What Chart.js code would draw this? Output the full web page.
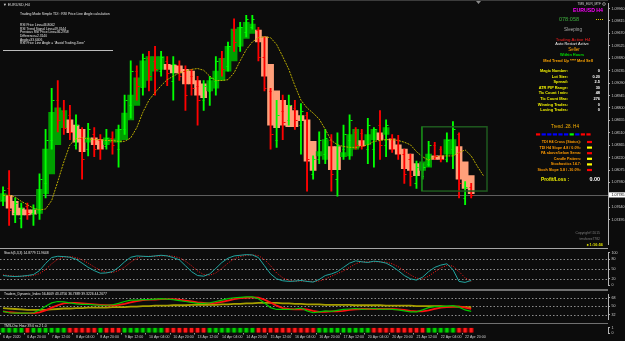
<!DOCTYPE html>
<html>
<head>
<meta charset="utf-8">
<script src="https://cdn.jsdelivr.net/npm/chart.js@4.4.1/dist/chart.umd.min.js"></script>
<style>
  html, body { margin: 0; padding: 0; background: #0c0c0c; overflow: hidden; }
  #wrap { position: relative; width: 625px; height: 341px; }
  #wrap canvas { position: absolute; left: 0; }
  .sep { position: absolute; left: 0; width: 608px; }
</style>
</head>
<body>
<div id="wrap">
  <canvas id="main" width="625" height="248" style="top:0px"></canvas>
  <canvas id="stoch" width="625" height="40" style="top:249px"></canvas>
  <canvas id="tdi" width="625" height="32" style="top:291px"></canvas>
  <canvas id="tms" width="625" height="17" style="top:324px"></canvas>
  <div class="sep" style="top:248px;height:1px;background:#a6a6a6"></div>
  <div class="sep" style="top:289px;height:2px;background:#707070"></div>
  <div class="sep" style="top:323px;height:1px;background:#707070"></div>
</div>
<script>
/* EURUSD H4, 6 Apr 04:00 .. 23 Apr 00:00 */
const timeTicks = ['6 Apr 2020', '6 Apr 20:00', '7 Apr 12:00', '8 Apr 04:00', '8 Apr 20:00', '9 Apr 12:00',
    '10 Apr 04:00', '10 Apr 20:00', '13 Apr 12:00', '14 Apr 04:00', '14 Apr 20:00', '15 Apr 12:00',
    '16 Apr 04:00', '16 Apr 20:00', '17 Apr 12:00', '20 Apr 04:00', '20 Apr 20:00', '21 Apr 12:00',
    '22 Apr 04:00', '22 Apr 20:00'];

const priceTicks = [1.09960, 1.09815, 1.09670, 1.09525, 1.09380, 1.09235, 1.09090, 1.08945, 1.08800,
    1.08655, 1.08510, 1.08365, 1.08220, 1.08075, 1.07930, 1.07640, 1.07495];
const lastPrice = 1.07785;

// Heiken Ashi bodies
const haOpen = [1.0771, 1.0778, 1.0771, 1.0763, 1.0761, 1.0761, 1.0757, 1.0780, 1.0803, 1.0837,
    1.0857, 1.0866, 1.0860, 1.0855, 1.0840, 1.0845, 1.0843, 1.0837, 1.0840, 1.0840,
    1.0843, 1.0866, 1.0883, 1.0904, 1.0912, 1.0923, 1.0925, 1.0931, 1.0930, 1.0929,
    1.0925, 1.0923, 1.0912, 1.0908, 1.0900, 1.0903, 1.0912, 1.0923, 1.0935, 1.0952,
    1.0961, 1.0967, 1.0971, 1.0963, 1.0931, 1.0900, 1.0889, 1.0883, 1.0877, 1.0871,
    1.0866, 1.0841, 1.0824, 1.0820, 1.0835, 1.0835, 1.0823, 1.0824, 1.0832, 1.0842,
    1.0837, 1.0843, 1.0851, 1.0849, 1.0844, 1.0837, 1.0832, 1.0826, 1.0815, 1.0807,
    1.0811, 1.0824, 1.0824, 1.0826, 1.0826, 1.0835, 1.0817, 1.0801];
const haClose = [1.0780, 1.0763, 1.0755, 1.0755, 1.0755, 1.0756, 1.0785, 1.0832, 1.0875, 1.0880,
    1.0877, 1.0851, 1.0840, 1.0829, 1.0845, 1.0837, 1.0832, 1.0845, 1.0844, 1.0855,
    1.0874, 1.0895, 1.0915, 1.0935, 1.0940, 1.0940, 1.0940, 1.0925, 1.0921, 1.0921,
    1.0908, 1.0908, 1.0895, 1.0892, 1.0912, 1.0923, 1.0938, 1.0952, 1.0972, 1.0974,
    1.0980, 1.0978, 1.0957, 1.0917, 1.0860, 1.0857, 1.0860, 1.0858, 1.0858, 1.0865,
    1.0818, 1.0807, 1.0829, 1.0843, 1.0808, 1.0808, 1.0828, 1.0849, 1.0855, 1.0836,
    1.0849, 1.0855, 1.0843, 1.0857, 1.0832, 1.0826, 1.0809, 1.0807, 1.0801, 1.0817,
    1.0826, 1.0820, 1.0820, 1.0843, 1.0843, 1.0797, 1.0786, 1.0780];

// plain OHLC bars
const openP = [1.0772, 1.0786, 1.0757, 1.0752, 1.0766, 1.0757, 1.0761, 1.0792, 1.0843, 1.0889,
    1.0877, 1.0872, 1.0837, 1.0845, 1.0832, 1.0849, 1.0843, 1.0835, 1.0845, 1.0832,
    1.0855, 1.0883, 1.0923, 1.0904, 1.0938, 1.0935, 1.0923, 1.0935, 1.0912, 1.0930,
    1.0923, 1.0917, 1.0906, 1.0889, 1.0900, 1.0912, 1.0938, 1.0929, 1.0971, 1.0952,
    1.0969, 1.0974, 1.0971, 1.0940, 1.0900, 1.0843, 1.0877, 1.0866, 1.0880, 1.0860,
    1.0872, 1.0803, 1.0820, 1.0826, 1.0843, 1.0797, 1.0832, 1.0843, 1.0852, 1.0851,
    1.0832, 1.0832, 1.0860, 1.0837, 1.0845, 1.0843, 1.0826, 1.0820, 1.0792, 1.0801,
    1.0815, 1.0837, 1.0832, 1.0820, 1.0832, 1.0849, 1.0775, 1.0788];
const highP = [1.0788, 1.0807, 1.0775, 1.0769, 1.0769, 1.0767, 1.0803, 1.0855, 1.0903, 1.0912,
    1.0889, 1.0883, 1.0872, 1.0857, 1.0862, 1.0857, 1.0849, 1.0855, 1.0852, 1.0860,
    1.0895, 1.0935, 1.0929, 1.0943, 1.0946, 1.0952, 1.0946, 1.0940, 1.0940, 1.0935,
    1.0929, 1.0925, 1.0917, 1.0912, 1.0917, 1.0940, 1.0946, 1.0957, 1.0984, 1.0980,
    1.0988, 1.0988, 1.0974, 1.0963, 1.0903, 1.0889, 1.0895, 1.0895, 1.0889, 1.0885,
    1.0875, 1.0824, 1.0852, 1.0855, 1.0849, 1.0851, 1.0860, 1.0872, 1.0857, 1.0855,
    1.0868, 1.0857, 1.0877, 1.0866, 1.0849, 1.0848, 1.0832, 1.0826, 1.0818, 1.0815,
    1.0841, 1.0840, 1.0835, 1.0851, 1.0864, 1.0851, 1.0794, 1.0792];
const lowP = [1.0766, 1.0743, 1.0746, 1.0740, 1.0750, 1.0743, 1.0750, 1.0775, 1.0832, 1.0852,
    1.0849, 1.0843, 1.0832, 1.0797, 1.0824, 1.0823, 1.0820, 1.0832, 1.0826, 1.0811,
    1.0849, 1.0868, 1.0889, 1.0895, 1.0900, 1.0895, 1.0917, 1.0906, 1.0889, 1.0912,
    1.0877, 1.0895, 1.0860, 1.0877, 1.0883, 1.0895, 1.0917, 1.0923, 1.0946, 1.0946,
    1.0963, 1.0972, 1.0935, 1.0900, 1.0832, 1.0834, 1.0843, 1.0860, 1.0855, 1.0826,
    1.0783, 1.0797, 1.0815, 1.0815, 1.0783, 1.0777, 1.0820, 1.0820, 1.0832, 1.0832,
    1.0815, 1.0811, 1.0820, 1.0823, 1.0828, 1.0820, 1.0792, 1.0789, 1.0786, 1.0797,
    1.0812, 1.0820, 1.0817, 1.0817, 1.0809, 1.0775, 1.0767, 1.0775];
const closeP = [1.0784, 1.0761, 1.0769, 1.0763, 1.0757, 1.0763, 1.0797, 1.0843, 1.0889, 1.0866,
    1.0857, 1.0852, 1.0860, 1.0820, 1.0855, 1.0832, 1.0832, 1.0845, 1.0837, 1.0855,
    1.0889, 1.0923, 1.0906, 1.0938, 1.0917, 1.0925, 1.0940, 1.0921, 1.0931, 1.0917,
    1.0895, 1.0903, 1.0889, 1.0906, 1.0915, 1.0935, 1.0925, 1.0952, 1.0957, 1.0974,
    1.0984, 1.0984, 1.0940, 1.0903, 1.0849, 1.0872, 1.0864, 1.0883, 1.0866, 1.0877,
    1.0820, 1.0820, 1.0843, 1.0845, 1.0803, 1.0837, 1.0849, 1.0866, 1.0837, 1.0835,
    1.0860, 1.0855, 1.0837, 1.0860, 1.0832, 1.0826, 1.0803, 1.0800, 1.0811, 1.0811,
    1.0837, 1.0824, 1.0820, 1.0843, 1.0855, 1.0792, 1.0788, 1.0778];

// shifted moving average (runs two bars past the last candle)
const maLine = [1.0778, 1.0778, 1.0776, 1.0771, 1.0767, 1.0763, 1.0761, 1.0762, 1.0772, 1.0794,
    1.0817, 1.0837, 1.0844, 1.0845, 1.0844, 1.0843, 1.0843, 1.0842, 1.0842, 1.0841,
    1.0841, 1.0845, 1.0857, 1.0875, 1.0889, 1.0898, 1.0906, 1.0913, 1.0917, 1.0921,
    1.0923, 1.0925, 1.0926, 1.0924, 1.0917, 1.0912, 1.0912, 1.0913, 1.0921, 1.0935,
    1.0948, 1.0957, 1.0962, 1.0963, 1.0962, 1.0954, 1.0940, 1.0925, 1.0906, 1.0889,
    1.0880, 1.0874, 1.0867, 1.0855, 1.0842, 1.0837, 1.0835, 1.0834, 1.0834, 1.0835,
    1.0837, 1.0841, 1.0842, 1.0843, 1.0843, 1.0842, 1.0840, 1.0837, 1.0829, 1.0823,
    1.0819, 1.0823, 1.0824, 1.0824, 1.0824, 1.0828, 1.0831, 1.0824, 1.0812, 1.0801];

const zoneBox = { from: 68.9, to: 79.6, low: 1.0783, high: 1.0858 };

// Stochastic (5,3,3)
const stochMain = [30, 28, 27, 28, 30, 33, 45, 67, 85, 89,
    88, 86, 80, 68, 55, 45, 37, 38, 42, 55,
    72, 86, 90, 89, 88, 90, 92, 90, 85, 78,
    60, 42, 30, 28, 35, 52, 70, 83, 90, 92,
    94, 93, 85, 60, 35, 20, 14, 12, 13, 15,
    12, 10, 18, 30, 35, 42, 55, 68, 75, 72,
    70, 74, 72, 68, 58, 45, 30, 20, 16, 25,
    42, 55, 62, 66, 48, 12, 9, 15];
const stochSignal = [32, 30, 28, 28, 28, 30, 36, 48, 66, 80,
    87, 88, 85, 78, 68, 56, 46, 40, 39, 45,
    56, 71, 83, 88, 89, 89, 90, 91, 89, 84,
    74, 60, 44, 33, 31, 38, 52, 68, 81, 88,
    92, 93, 91, 79, 60, 38, 23, 15, 13, 13,
    13, 12, 13, 19, 28, 36, 44, 55, 66, 72,
    72, 72, 72, 71, 66, 57, 44, 32, 22, 20,
    28, 41, 53, 61, 59, 42, 23, 12];
const stochLevels = [80, 50, 20];

// Traders Dynamic Index
const tdiRsi = [39, 36, 35, 35, 35, 36, 42, 50, 57, 60,
    59, 57, 55, 54, 54, 53, 52, 52, 53, 56,
    60, 63, 63, 64, 64, 65, 66, 65, 64, 62,
    60, 58, 56, 56, 57, 60, 63, 66, 68, 69,
    70, 70, 66, 57, 47, 43, 43, 43, 44, 46,
    40, 36, 38, 40, 39, 41, 43, 44, 45, 43,
    44, 45, 43, 44, 43, 42, 40, 38, 38, 42,
    47, 49, 49, 50, 51, 48, 42, 39];
const tdiSignal = [39, 37, 36, 35, 35, 35, 37, 41, 47, 52,
    56, 57, 57, 56, 55, 54, 53, 52, 52, 53,
    55, 58, 61, 63, 64, 64, 65, 65, 65, 64,
    62, 60, 58, 57, 56, 57, 59, 62, 65, 67,
    68, 69, 68, 64, 58, 51, 46, 44, 43, 44,
    43, 40, 38, 38, 39, 39, 40, 42, 43, 44,
    44, 44, 44, 44, 44, 43, 42, 40, 39, 39,
    41, 44, 47, 48, 49, 49, 47, 44];
const tdiBase = [46, 45, 44, 43, 42, 42, 42, 42, 43, 44,
    45, 45, 46, 46, 47, 47, 47, 47, 48, 48,
    48, 49, 49, 50, 50, 51, 51, 51, 52, 52,
    52, 53, 53, 53, 53, 53, 54, 54, 55, 55,
    56, 56, 57, 57, 57, 57, 56, 56, 55, 55,
    54, 54, 54, 53, 53, 53, 53, 53, 52, 52,
    52, 52, 52, 51, 51, 51, 51, 51, 50, 50,
    50, 50, 50, 49, 49, 49, 48, 48];
const tdiLevels = [68, 50, 32];

// TMS oscillator direction per bar (1 up, -1 down)
const tmsSignal = [1, 1, 1, 1, -1, 1, 1, 1, 1, 1, 1,
    -1, -1, -1, -1, -1, 1,
    -1, -1, -1, 1, 1,
    1, 1, 1, 1, 1, -1,
    -1, -1, -1, -1, -1, -1,
    1, 1, 1, 1, 1, 1, 1, 1, -1,
    -1, -1, -1, -1, -1, -1, -1, -1, -1,
    1, 1,
    1, 1, 1, 1, 1, 1, 1, -1, -1,
    -1, -1, -1, -1,
    -1, -1, -1,
    1, 1, 1, 1, 1,
    -1, -1, -1];

// panel texts
const leftInfo = ['RSI Price Line=46.8062', 'RSI Trend Signal Line=49.3144', 'Previous RSI Price Line=36.2958',
    'Difference=2.3140', 'Angle=33.6406', 'RSI Price Line Angle = "Avoid Trading Zone"'];
const infoRows = [['Magic Number:', '0'], ['Lot Size:', '0.20'], ['Spread:', '2.5'], ['ATR PIP Range:', '30'],
    ['Tic Count l min:', '48'], ['Tic Count Max:', '276'], ['Winning Trades:', '0'], ['Losing Trades:', '0']];
const statusRows = [['TDI H4 Cross (Status):', '#ff0000'], ['TDI H4 Slope 4.8 / 0.0%:', '#ffff00'],
    ['PA above/below Sema:', '#ff0000'], ['Candle Pattern:', '#ffff00'], ['Stochastics 14.7:', '#ffff00'],
    ['Stoch Slope 5.8 / -10.0%:', '#ff0000']];
const trendSquares = ['#ff0000', '#0000ff', '#0000ff', '#0000ff', '#0000ff', '#0000ff', '#00ff00', '#0000ff', '#ff0000', '#ff0000'];

/* Layout */
const FONT = '"Liberation Sans", Arial, sans-serif';
const AXIS_W = 17;
const SLOTS = 100;
const BULL_BODY = '#00a000', BEAR_BODY = '#ffa07a';
const BULL_WICK = '#00ff00', BEAR_WICK = '#ff0000';

Chart.defaults.font.family = FONT;
Chart.defaults.animation = false;

const labels = Array.from({ length: SLOTS }, (_, i) => (i % 4 === 0 && timeTicks[i / 4]) ? timeTicks[i / 4] : '');

function txt(ctx, s, x, y, color, size, align = 'left', bold = false) {
    ctx.font = `${bold ? 'bold ' : ''}${size}px ${FONT}`;
    ctx.fillStyle = color;
    ctx.textAlign = align;
    ctx.textBaseline = 'middle';
    ctx.fillText(s, x, y);
}

function yAxis(min, max, ticks, fmt) {
    return {
        position: 'right',
        min, max,
        afterFit: (s) => { s.width = AXIS_W; },
        afterBuildTicks: (s) => { s.ticks = ticks.map((v) => ({ value: v })); },
        border: { color: '#b4b4b4', width: 1 },
        grid: { drawOnChartArea: false, tickLength: 2, color: '#b4b4b4' },
        ticks: { color: '#d2d2d2', font: { size: 3.6 }, padding: 1.5, autoSkip: false, callback: fmt },
    };
}

const xHidden = { type: 'category', display: false, offset: true, grid: { display: false } };

const baseOptions = (padTop, padBottom) => ({
    responsive: false,
    devicePixelRatio: 1,
    events: [],
    layout: { padding: { top: padTop, bottom: padBottom, left: 0, right: 0 } },
    plugins: { legend: { display: false }, tooltip: { enabled: false } },
});

// dashed level lines + panel title
const panelDecor = {
    id: 'panelDecor',
    beforeDatasetsDraw(chart, args, opts) {
        const { ctx, chartArea, scales: { y } } = chart;
        ctx.save();
        ctx.strokeStyle = '#8c8c8c';
        ctx.lineWidth = 1;
        ctx.setLineDash([1.5, 2]);
        (opts.levels || []).forEach((v) => {
            const py = Math.round(y.getPixelForValue(v)) + 0.5;
            ctx.beginPath();
            ctx.moveTo(chartArea.left, py);
            ctx.lineTo(chartArea.right, py);
            ctx.stroke();
        });
        ctx.restore();
    },
    afterDraw(chart, args, opts) {
        if (opts.title) txt(chart.ctx, opts.title, 4, opts.titleY, '#e6e6e6', 3.4);
    },
};

/* Main price window */
const mainDecor = {
    id: 'mainDecor',
    beforeDatasetsDraw(chart) {
        const { ctx, chartArea, scales: { y } } = chart;
        const py = Math.round(y.getPixelForValue(lastPrice)) + 0.5;
        ctx.save();
        ctx.strokeStyle = '#5e5e5e';
        ctx.lineWidth = 1;
        ctx.beginPath();
        ctx.moveTo(chartArea.left, py);
        ctx.lineTo(chartArea.right, py);
        ctx.stroke();
        ctx.restore();
    },
    afterDatasetsDraw(chart) {
        const { ctx, scales: { x, y } } = chart;
        ctx.save();
        // open / close ticks of the OHLC bars
        ctx.lineWidth = 1;
        openP.forEach((o, i) => {
            const px = Math.round(x.getPixelForValue(i)) + 0.5;
            const yo = Math.round(y.getPixelForValue(o)) + 0.5;
            const yc = Math.round(y.getPixelForValue(closeP[i])) + 0.5;
            ctx.strokeStyle = closeP[i] >= o ? BULL_WICK : BEAR_WICK;
            ctx.beginPath();
            ctx.moveTo(px - 2, yo); ctx.lineTo(px, yo);
            ctx.moveTo(px, yc); ctx.lineTo(px + 2, yc);
            ctx.stroke();
        });
        // zone rectangle
        const x0 = x.getPixelForValue(zoneBox.from), x1 = x.getPixelForValue(zoneBox.to);
        const y0 = y.getPixelForValue(zoneBox.high), y1 = y.getPixelForValue(zoneBox.low);
        ctx.strokeStyle = '#1f5a1f';
        ctx.lineWidth = 1.5;
        ctx.strokeRect(x0, y0, x1 - x0, y1 - y0);
        ctx.strokeStyle = '#13a513';
        ctx.lineWidth = 1;
        ctx.beginPath();
        ctx.moveTo(x0, y0); ctx.lineTo(x0, y1);
        ctx.stroke();
        ctx.restore();
    },
    afterDraw(chart) {
        const { ctx, chartArea, scales: { y } } = chart;
        ctx.save();
        // top frame line and shift marker
        ctx.fillStyle = '#3c3c3c';
        ctx.fillRect(0, 0, chartArea.right, 1);
        ctx.fillStyle = '#8a8a8a';
        ctx.beginPath();
        ctx.moveTo(476, 1); ctx.lineTo(481, 1); ctx.lineTo(478.5, 4);
        ctx.fill();

        // top-left block
        txt(ctx, '\u25BC EURUSD,H4', 3, 5, '#d8d8d8', 3.8);
        txt(ctx, 'Trading Mode Simple TDI : RSI Price Line Angle calculation', 20, 14.3, '#e4e4e4', 3.4);
        leftInfo.forEach((s, i) => txt(ctx, s, 20, 25 + i * 3.7, '#e4e4e4', 3.3));
        ctx.fillStyle = '#bcbcbc';
        ctx.fillRect(3, 50, 110, 1);

        // right status panel
        txt(ctx, 'TMS_EUR_MTF', 601, 4, '#cfcfcf', 3.2, 'right');
        ctx.strokeStyle = '#cfcfcf';
        ctx.lineWidth = 0.6;
        ctx.beginPath(); ctx.arc(604, 4, 1.4, 0, Math.PI * 2); ctx.stroke();
        txt(ctx, 'EURUSD H4', 588, 10.5, '#ff00ff', 5.2, 'center', true);
        txt(ctx, '078:058', 569, 19.5, '#3fae3f', 5.6, 'center');
        ctx.setLineDash([1, 1]);
        ctx.strokeStyle = '#d6c000';
        ctx.lineWidth = 1;
        ctx.beginPath(); ctx.moveTo(596, 19.5); ctx.lineTo(604, 19.5); ctx.stroke();
        ctx.setLineDash([]);
        txt(ctx, 'Sleeping', 573, 29.5, '#a8a8a8', 4.6, 'center');
        txt(ctx, 'Trading Active H4', 573, 39.3, '#ff1e1e', 4.4, 'center');
        txt(ctx, 'Auto Restart Active', 572, 44.3, '#f2f2f2', 3.9, 'center');
        txt(ctx, 'Seller', 574, 49.6, '#ffa500', 4.6, 'center');
        txt(ctx, 'Within Hours', 572, 55.2, '#00dd00', 3.9, 'center', true);
        txt(ctx, 'Med Trend Up **** Med Sell', 568, 61, '#ffa500', 3.9, 'center', true);
        infoRows.forEach(([k, v], i) => {
            const yy = 71 + i * 5.6;
            txt(ctx, k, 568, yy, '#f2f200', 3.9, 'right', true);
            txt(ctx, v, 600, yy, '#ffffff', 3.9, 'right', true);
        });
        txt(ctx, 'Trend .28. H4', 565, 127, '#ffb400', 4.6, 'center');
        trendSquares.forEach((c, i) => {
            ctx.fillStyle = c;
            ctx.fillRect(536 + i * 5.6, 133.3, 4.2, 2.2);
        });
        statusRows.forEach(([k, c], i) => {
            const yy = 142 + i * 5.6;
            txt(ctx, k, 581, yy, '#ff9a00', 3.7, 'right', true);
            ctx.fillStyle = c;
            ctx.fillRect(587, yy - 1.1, 5, 2.2);
        });
        txt(ctx, 'Profit/Loss :', 555, 180, '#f2f200', 4.8, 'center', true);
        txt(ctx, '0.00', 600, 180, '#ffffff', 5.4, 'right', true);

        // bottom-right footer
        txt(ctx, 'Copyright\u00A92015', 600, 233, '#7c7c7c', 3.4, 'right');
        txt(ctx, 'tmsforex7782', 600, 239, '#7c7c7c', 3.4, 'right');
        txt(ctx, '\u25B8 1:16:56', 603, 245, '#e0e000', 3.9, 'right', true);

        // current price box on the axis
        const py = y.getPixelForValue(lastPrice);
        ctx.fillStyle = '#ffffff';
        ctx.fillRect(chartArea.right + 1, py - 2.6, 16, 5.2);
        txt(ctx, lastPrice.toFixed(5), chartArea.right + 3.5, py, '#000000', 3.6);
        ctx.restore();
    },
};

new Chart(document.getElementById('main'), {
    type: 'bar',
    data: {
        labels,
        datasets: [
            {
                type: 'line',
                data: maLine,
                borderColor: '#bcae00',
                borderWidth: 1,
                borderDash: [2, 1],
                pointRadius: 0,
                order: 0,
            },
            {
                data: lowP.map((l, i) => [l, highP[i]]),
                backgroundColor: closeP.map((c, i) => (c >= openP[i] ? BULL_WICK : BEAR_WICK)),
                barThickness: 1.2,
                grouped: false,
                order: 1,
            },
            {
                data: haOpen.map((o, i) => [o, haClose[i]]),
                backgroundColor: haClose.map((c, i) => (c >= haOpen[i] ? BULL_BODY : BEAR_BODY)),
                barPercentage: 1,
                categoryPercentage: 1,
                grouped: false,
                order: 2,
            },
        ],
    },
    options: {
        ...baseOptions(1, 1),
        scales: {
            x: xHidden,
            y: yAxis(1.07208, 1.10017, priceTicks, (v) => v.toFixed(5)),
        },
    },
    plugins: [mainDecor],
});

/* Stochastic window */
new Chart(document.getElementById('stoch'), {
    type: 'line',
    data: {
        labels,
        datasets: [
            { data: stochMain, borderColor: '#22a6a0', borderWidth: 1, pointRadius: 0, order: 0 },
            { data: stochSignal, borderColor: '#ff1a1a', borderWidth: 1, borderDash: [1, 1.5], pointRadius: 0, order: 1 },
        ],
    },
    options: {
        ...baseOptions(2, 2),
        scales: {
            x: xHidden,
            y: yAxis(0, 100, [100, 80, 50, 20, 0], (v) => String(v)),
        },
        plugins: {
            legend: { display: false },
            tooltip: { enabled: false },
            panelDecor: { levels: stochLevels, title: 'Stoch(5,3,3) 14.8779 11.9648', titleY: 4.5 },
        },
    },
    plugins: [panelDecor],
});

/* Traders Dynamic Index window */
new Chart(document.getElementById('tdi'), {
    type: 'line',
    data: {
        labels,
        datasets: [
            { data: tdiRsi, borderColor: '#00c800', borderWidth: 1.2, pointRadius: 0, order: 0 },
            { data: tdiSignal, borderColor: '#ff1010', borderWidth: 1.8, pointRadius: 0, order: 1 },
            { data: tdiBase, borderColor: '#a8a000', borderWidth: 1.8, pointRadius: 0, order: 2 },
        ],
    },
    options: {
        ...baseOptions(0, 0),
        scales: {
            x: xHidden,
            y: yAxis(21.9095, 74.6, [68, 50, 32], (v) => String(v)),
        },
        plugins: {
            legend: { display: false },
            tooltip: { enabled: false },
            panelDecor: {
                levels: tdiLevels,
                title: 'Traders_Dynamic_Index 56.4609 43.4756 36.7889 39.3226 44.2677',
                titleY: 3,
            },
        },
    },
    plugins: [panelDecor],
});

/* TMS oscillator window with the time axis */
new Chart(document.getElementById('tms'), {
    type: 'bar',
    data: {
        labels,
        datasets: [
            {
                data: tmsSignal.map(() => [0, 1]),
                backgroundColor: tmsSignal.map((s) => (s > 0 ? '#006a00' : '#8a0000')),
                barPercentage: 0.9,
                categoryPercentage: 1,
                grouped: false,
                order: 1,
            },
            {
                data: tmsSignal.map(() => [0, 1]),
                backgroundColor: tmsSignal.map((s) => (s > 0 ? '#00d200' : '#ff1a1a')),
                barPercentage: 0.5,
                categoryPercentage: 1,
                grouped: false,
                order: 0,
            },
        ],
    },
    options: {
        ...baseOptions(0, 0),
        scales: {
            x: {
                type: 'category',
                offset: true,
                afterFit: (s) => { s.height = 8; },
                border: { display: false },
                grid: {
                    drawOnChartArea: false,
                    tickLength: 1.5,
                    color: (c) => (labels[c.index] ? '#9a9a9a' : 'rgba(0,0,0,0)'),
                },
                ticks: {
                    autoSkip: false,
                    maxRotation: 0,
                    minRotation: 0,
                    align: 'start',
                    padding: 0.5,
                    color: '#cfcfcf',
                    font: { size: 3.6 },
                },
            },
            y: yAxis(0, 1, [1, 0], (v) => String(v)),
        },
        plugins: {
            legend: { display: false },
            tooltip: { enabled: false },
            panelDecor: { title: 'TMS-Osc Hour 39.0 ro.2 1.0', titleY: 2.2 },
        },
    },
    plugins: [panelDecor],
});
</script>
</body>
</html>
